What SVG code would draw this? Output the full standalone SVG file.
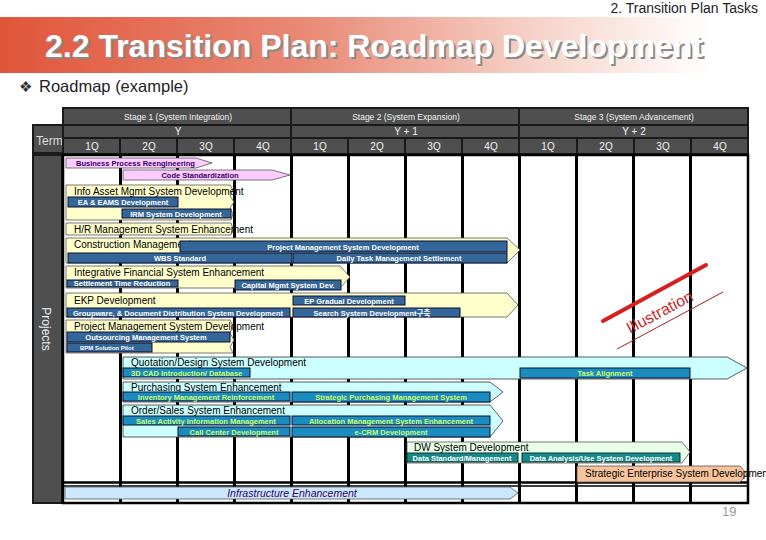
<svg xmlns="http://www.w3.org/2000/svg" width="766" height="540" viewBox="0 0 766 540">
<defs>
<linearGradient id="banner" x1="0" y1="0" x2="1" y2="0">
<stop offset="0" stop-color="#e0553a"/>
<stop offset="0.4" stop-color="#e98a76"/>
<stop offset="0.7" stop-color="#f6d3c9"/>
<stop offset="0.93" stop-color="#ffffff"/>
</linearGradient>
<style>
.hcell{fill:#4f4f4f}
.htxt{font-family:"Liberation Sans",Arial,sans-serif;fill:#f2f2f2;text-anchor:middle}
.grid{stroke:#000;stroke-width:3}
.yel{fill:#ffffcc;stroke:#555;stroke-width:0.8}
.cyan{fill:#ccffff;stroke:#333;stroke-width:0.8}
.pink{fill:#ffccff;stroke:#555;stroke-width:0.8}
.grn{fill:#e8ffe8;stroke:#555;stroke-width:0.8}
.peach{fill:#f9c49c;stroke:#555;stroke-width:0.8}
.lblue{fill:#cce8ff;stroke:#555;stroke-width:0.8}
.blue{fill:#336699;stroke:#101030;stroke-width:1}
.cbox{fill:#1a8cc0;stroke:#101030;stroke-width:1}
.tbox{fill:#148a8a;stroke:#103030;stroke-width:1}
.ttl{font-family:"Liberation Sans",Arial,sans-serif;font-size:10px;fill:#000}
.bt{font-family:"Liberation Sans",Arial,"Noto Sans CJK KR",sans-serif;font-size:7.5px;font-weight:bold;fill:#fff;text-anchor:middle}
.ct{font-family:"Liberation Sans",Arial,sans-serif;font-size:7.5px;font-weight:bold;fill:#ccff66;text-anchor:middle}
.st{text-anchor:start}
.pt{font-family:"Liberation Sans",Arial,sans-serif;font-size:7.5px;font-weight:bold;fill:#330066}
</style>
</defs>
<rect width="766" height="540" fill="#fff"/>
<!-- top -->
<text x="758" y="13" font-family="Liberation Sans, Arial, sans-serif" font-size="14" fill="#222" text-anchor="end">2. Transition Plan Tasks</text>
<rect x="0" y="17" width="766" height="56" fill="url(#banner)"/>
<text x="47" y="59" font-family="Liberation Sans, Arial, sans-serif" font-size="32" font-weight="bold" fill="#8a8a8a">2.2 Transition Plan: Roadmap Development</text>
<text x="45" y="57" font-family="Liberation Sans, Arial, sans-serif" font-size="32" font-weight="bold" fill="#ffffff">2.2 Transition Plan: Roadmap Development</text>
<text x="19" y="92" font-family="DejaVu Sans, sans-serif" font-size="15" fill="#333">❖</text>
<text x="39" y="92" font-family="Liberation Sans, Arial, sans-serif" font-size="16.5" fill="#222">Roadmap (example)</text>

<!-- left column -->
<g id="term">
<rect x="32" y="124" width="31" height="30" fill="#1a1a1a"/>
<rect x="34" y="126" width="28" height="26" class="hcell"/>
<text x="36" y="145" font-family="Liberation Sans, Arial, sans-serif" font-size="12" fill="#dddddd">Term</text>
</g>
<g id="projects">
<rect x="32" y="154" width="31" height="350" fill="#1a1a1a"/>
<rect x="34" y="156" width="27" height="346" class="hcell"/>
<text transform="translate(42,329) rotate(90)" font-family="Liberation Sans, Arial, sans-serif" font-size="12" fill="#eeeeee" text-anchor="middle">Projects</text>
</g>

<!-- header -->
<g id="header">
<rect x="62" y="107" width="687" height="47" fill="#1a1a1a"/>
<rect x="64" y="109" width="226" height="15" class="hcell"/>
<rect x="292" y="109" width="226" height="15" class="hcell"/>
<rect x="520" y="109" width="227" height="15" class="hcell"/>
<rect x="64" y="126" width="226" height="11" class="hcell"/>
<rect x="292" y="126" width="226" height="11" class="hcell"/>
<rect x="520" y="126" width="227" height="11" class="hcell"/>
<g>
<rect x="64" y="139" width="55" height="14" class="hcell"/>
<rect x="121" y="139" width="55" height="14" class="hcell"/>
<rect x="178" y="139" width="55" height="14" class="hcell"/>
<rect x="235" y="139" width="55" height="14" class="hcell"/>
<rect x="292" y="139" width="55" height="14" class="hcell"/>
<rect x="349" y="139" width="55" height="14" class="hcell"/>
<rect x="406" y="139" width="55" height="14" class="hcell"/>
<rect x="463" y="139" width="55" height="14" class="hcell"/>
<rect x="520" y="139" width="56" height="14" class="hcell"/>
<rect x="578" y="139" width="55" height="14" class="hcell"/>
<rect x="635" y="139" width="55" height="14" class="hcell"/>
<rect x="692" y="139" width="55" height="14" class="hcell"/>
</g>
<text class="htxt" x="178" y="120" font-size="8.5">Stage 1 (System Integration)</text>
<text class="htxt" x="406" y="120" font-size="8.5">Stage 2 (System Expansion)</text>
<text class="htxt" x="634" y="120" font-size="8.5">Stage 3 (System Advancement)</text>
<text class="htxt" x="178" y="135" font-size="10">Y</text>
<text class="htxt" x="406" y="135" font-size="10">Y + 1</text>
<text class="htxt" x="634" y="135" font-size="10">Y + 2</text>
<g font-size="10">
<text class="htxt" x="92" y="150">1Q</text>
<text class="htxt" x="149" y="150">2Q</text>
<text class="htxt" x="206" y="150">3Q</text>
<text class="htxt" x="263" y="150">4Q</text>
<text class="htxt" x="320" y="150">1Q</text>
<text class="htxt" x="377" y="150">2Q</text>
<text class="htxt" x="434" y="150">3Q</text>
<text class="htxt" x="491" y="150">4Q</text>
<text class="htxt" x="548" y="150">1Q</text>
<text class="htxt" x="606" y="150">2Q</text>
<text class="htxt" x="663" y="150">3Q</text>
<text class="htxt" x="720" y="150">4Q</text>
</g>
</g>

<!-- body grid -->
<g id="grid">
<rect x="63" y="155" width="685" height="348" fill="#fff" stroke="#000" stroke-width="2.5"/>
<line class="grid" x1="120.5" y1="155" x2="120.5" y2="503"/>
<line class="grid" x1="177.5" y1="155" x2="177.5" y2="503"/>
<line class="grid" x1="234.5" y1="155" x2="234.5" y2="503"/>
<line class="grid" x1="291.5" y1="155" x2="291.5" y2="503"/>
<line class="grid" x1="348.5" y1="155" x2="348.5" y2="503"/>
<line class="grid" x1="405.5" y1="155" x2="405.5" y2="503"/>
<line class="grid" x1="462.5" y1="155" x2="462.5" y2="503"/>
<line class="grid" x1="519.5" y1="155" x2="519.5" y2="503"/>
<line class="grid" x1="576.5" y1="155" x2="576.5" y2="503"/>
<line class="grid" x1="633.5" y1="155" x2="633.5" y2="503"/>
<line class="grid" x1="690.5" y1="155" x2="690.5" y2="503"/>
<line x1="63" y1="482.5" x2="748" y2="482.5" stroke="#000" stroke-width="2.5"/>
<line x1="63" y1="486" x2="748" y2="486" stroke="#000" stroke-width="1.5"/>
</g>

<g id="connectors"></g>

<!-- BPR / Code -->
<g id="bpr">
<path class="pink" d="M66 158 H196 L212 163 L196 168 H66 Z"/>
<text class="pt" x="76" y="166">Business Process Reengineering</text>
</g>
<g id="code-std">
<path class="pink" d="M123 170 H272 L290 175 L272 180 H123 Z"/>
<text class="pt" x="200" y="178" text-anchor="middle">Code Standardization</text>
</g>

<g id="info-asset">
<path class="yel" d="M66 185 H230 L233 190 L230 196 L234 202 L230 208 L233 214 L231 220 H66 Z"/>
<text class="ttl" x="74" y="195">Info Asset Mgmt System Development</text>
<rect class="blue" x="68" y="197" width="110" height="10"/>
<text class="bt" x="123" y="205">EA &amp; EAMS Development</text>
<rect class="blue" x="122" y="209" width="109" height="9"/>
<text class="bt" x="176" y="216.5">IRM System Development</text>
</g>

<g id="hr">
<path class="yel" d="M66 223 H231 L233 229 L231 235 H66 Z"/>
<text class="ttl" x="74" y="233">H/R Management System Enhancement</text>
</g>

<g id="construction">
<path class="yel" d="M66 238 H507 L520 250 L507 263 H66 Z"/>
<text class="ttl" x="74" y="248">Construction Management</text>
<rect class="blue" x="180" y="241" width="327" height="11"/>
<text class="bt" x="343" y="249.5">Project Management System Development</text>
<rect class="blue" x="68" y="253" width="224" height="10"/>
<text class="bt" x="180" y="261">WBS Standard</text>
<rect class="blue" x="293" y="253" width="214" height="10"/>
<text class="bt" x="399" y="261">Daily Task Management Settlement</text>
</g>

<g id="financial">
<path class="yel" d="M66 266 H340 L350 277 L340 288 H66 Z"/>
<text class="ttl" x="74" y="276">Integrative Financial System Enhancement</text>
<rect class="blue" x="67" y="280" width="111" height="7"/>
<text class="bt" x="122" y="286" font-size="6">Settlement Time Reduction</text>
<rect class="blue" x="235" y="280" width="106" height="10"/>
<text class="bt" x="288" y="288">Capital Mgmt System Dev.</text>
</g>

<g id="ekp">
<path class="yel" d="M66 293 H507 L518 305 L507 317 H66 Z"/>
<text class="ttl" x="74" y="304">EKP Development</text>
<rect class="blue" x="293" y="296" width="112" height="9"/>
<text class="bt" x="349" y="303.5">EP Gradual Development</text>
<rect class="blue" x="67" y="308" width="223" height="9"/>
<text class="bt" x="178" y="315.5">Groupware, &amp; Document Distribution System Development</text>
<rect class="blue" x="293" y="308" width="167" height="9"/>
<text class="bt" x="372" y="315.5">Search System Development구축</text>
</g>

<g id="pms">
<path class="yel" d="M66 320 H230 L233 326 L230 333 L234 340 L230 347 L233 353 H66 Z"/>
<text class="ttl" x="74" y="330">Project Management System Development</text>
<rect class="blue" x="67" y="332" width="163" height="10"/>
<text class="bt" x="146" y="340">Outsourcing Management System</text>
<rect class="blue" x="67" y="343" width="85" height="9"/>
<text class="bt st" x="80" y="350" style="font-size:6px">BPM Solution Pilot</text>
</g>

<g id="quotation">
<path class="cyan" d="M123 357 H727 L747 368 L727 379 H123 Z"/>
<text class="ttl" x="131" y="366">Quotation/Design System Development</text>
<rect class="cbox" x="123" y="368" width="127" height="9"/>
<text class="ct st" x="131" y="375.5">3D CAD Introduction/ Database</text>
<rect class="cbox" x="520" y="368" width="170" height="10"/>
<text class="ct" x="605" y="376">Task Alignment</text>
</g>

<g id="purchasing">
<path class="cyan" d="M123 382 H490 L503 392 L490 402 H123 Z"/>
<text class="ttl" x="131" y="390.5">Purchasing System Enhancement</text>
<rect class="cbox" x="123" y="392" width="167" height="9"/>
<text class="ct" x="206" y="399.5">Inventory Management Reinforcement</text>
<rect class="cbox" x="292" y="392" width="198" height="10"/>
<text class="ct" x="391" y="400">Strategic Purchasing Management System</text>
</g>

<g id="order-sales">
<path class="cyan" d="M123 405 H490 L503 421 L490 437 H123 Z"/>
<text class="ttl" x="131" y="414">Order/Sales System Enhancement</text>
<rect class="cbox" x="123" y="416" width="167" height="9"/>
<text class="ct" x="206" y="423.5">Sales Activity Information Management</text>
<rect class="cbox" x="292" y="416" width="198" height="9"/>
<text class="ct" x="391" y="423.5">Allocation Management System Enhancement</text>
<rect class="cbox" x="178" y="427" width="112" height="9"/>
<text class="ct" x="234" y="434.5">Call Center Development</text>
<rect class="cbox" x="292" y="427" width="198" height="10"/>
<text class="ct" x="391" y="435">e-CRM Development</text>
</g>

<g id="dw">
<path class="grn" d="M407 442 H682 L690 452 L682 463 H407 Z"/>
<text class="ttl" x="414" y="451">DW System Development</text>
<rect class="tbox" x="407" y="453" width="111" height="9"/>
<text class="bt" x="462" y="460.5">Data Standard/Management</text>
<rect class="tbox" x="522" y="453" width="158" height="9"/>
<text class="bt" x="601" y="460.5">Data Analysis/Use System Development</text>
</g>

<g id="strategic">
<path class="peach" d="M577 466 H740 L747 474 L740 482 H577 Z"/>
<text class="ttl" x="585" y="477">Strategic Enterprise System Development</text>
</g>

<g id="infra">
<path class="lblue" d="M65 487 H510 L518 493 L510 499 H65 Z"/>
<text x="292" y="497" font-family="Liberation Sans, Arial, sans-serif" font-size="10.5" font-style="italic" fill="#330066" text-anchor="middle">Infrastructure Enhancement</text>
</g>

<!-- illustration stamp -->
<g id="stamp">
<line x1="603" y1="321" x2="706" y2="265" stroke="#d81e1e" stroke-width="4" stroke-linecap="round"/>
<line x1="617" y1="349" x2="723" y2="292" stroke="#a02020" stroke-width="1"/>
<text transform="translate(630,334) rotate(-28)" font-family="Liberation Sans, Arial, sans-serif" font-size="16" fill="#c82828">Illustration</text>
</g>

<text x="722" y="516" font-family="Liberation Sans, Arial, sans-serif" font-size="13" fill="#999">19</text>
</svg>
